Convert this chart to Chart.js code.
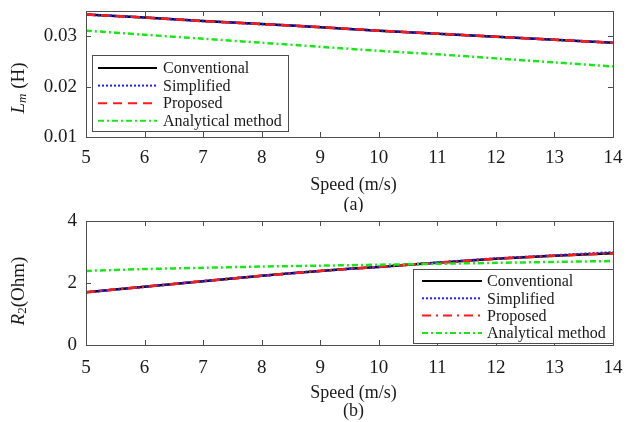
<!DOCTYPE html>
<html>
<head>
<meta charset="utf-8">
<script src="https://cdn.jsdelivr.net/npm/chart.js@4/dist/chart.umd.min.js"></script>
<style>
  body { margin: 0; background: #fff; }
  #wrap { position: relative; width: 628px; height: 422px; }
  canvas { position: absolute; left: 0; }
</style>
</head>
<body>
<div id="wrap">
  <canvas id="chartA" width="628" height="212" style="top:0"></canvas>
  <canvas id="chartB" width="628" height="210" style="top:212px"></canvas>
</div>
<script>
// data
const speed = [5, 6, 7, 8, 9, 10, 11, 12, 13, 14];

const lmConventional = [0.0343, 0.0337, 0.0330, 0.0324, 0.0318, 0.0311, 0.0305, 0.0299, 0.0293, 0.0287];
const lmSimplified   = [0.0343, 0.0337, 0.0330, 0.0324, 0.0318, 0.0311, 0.0305, 0.0299, 0.0293, 0.0287];
const lmProposed     = [0.0343, 0.0337, 0.0330, 0.0324, 0.0318, 0.0311, 0.0305, 0.0299, 0.0293, 0.0287];
const lmAnalytical   = [0.0311, 0.0303, 0.0295, 0.0287, 0.0279, 0.0271, 0.0264, 0.0256, 0.0248, 0.0240];

const r2Conventional = [1.70, 1.88, 2.06, 2.23, 2.39, 2.52, 2.65, 2.78, 2.88, 2.96];
const r2Simplified   = [1.70, 1.88, 2.06, 2.23, 2.39, 2.52, 2.66, 2.79, 2.89, 2.99];
const r2Proposed     = [1.70, 1.88, 2.06, 2.23, 2.39, 2.52, 2.65, 2.78, 2.88, 2.96];
const r2Analytical   = [2.39, 2.45, 2.49, 2.53, 2.56, 2.59, 2.62, 2.65, 2.68, 2.71];

const seriesNames = ['Conventional', 'Simplified', 'Proposed', 'Analytical method'];
const lmTicks = [0.01, 0.035, 0.01];   // min, max, step
const r2Ticks = [0, 4, 2];

const serif = '"Liberation Serif", "Times New Roman", serif';
const frameColor = '#4d4d4d';

function toPoints(values) {
    return speed.map((s, i) => ({ x: s, y: values[i] }));
}

// draws a rotated label made of several pieces (italic letter, subscript...)
function drawVerticalTitle(ctx, parts, cx, cy) {
    let total = 0;
    parts.forEach(p => { ctx.font = p.font; p.w = ctx.measureText(p.text).width; total += p.w; });
    ctx.save();
    ctx.translate(cx, cy);
    ctx.rotate(-Math.PI / 2);
    ctx.textBaseline = 'middle';
    ctx.textAlign = 'left';
    ctx.fillStyle = '#1a1a1a';
    let x = -total / 2;
    parts.forEach(p => {
        ctx.font = p.font;
        ctx.fillText(p.text, x, p.dy || 0);
        x += p.w;
    });
    ctx.restore();
}

function line(ctx, x1, y1, x2, y2) {
    ctx.beginPath();
    ctx.moveTo(x1, y1);
    ctx.lineTo(x2, y2);
    ctx.stroke();
}

// MATLAB style box, inward ticks, titles and legend
const matlabFrame = {
    id: 'matlabFrame',
    afterDraw(chart, args, opts) {
        const ctx = chart.ctx;
        const a = chart.chartArea;
        const xs = chart.scales.x;
        const ys = chart.scales.y;
        ctx.save();
        ctx.strokeStyle = frameColor;
        ctx.lineWidth = 1;
        ctx.setLineDash([]);
        ctx.strokeRect(Math.round(a.left) + 0.5, Math.round(a.top) + 0.5,
            Math.round(a.right - a.left), Math.round(a.bottom - a.top));
        xs.ticks.forEach(t => {
            const px = Math.round(xs.getPixelForValue(t.value)) + 0.5;
            line(ctx, px, a.bottom, px, a.bottom - 5);
            line(ctx, px, a.top, px, a.top + 5);
        });
        ys.ticks.forEach(t => {
            const py = Math.round(ys.getPixelForValue(t.value)) + 0.5;
            line(ctx, a.left, py, a.left + 5, py);
            line(ctx, a.right, py, a.right - 5, py);
        });

        // x title and panel label
        const cx = (a.left + a.right) / 2 + 4;
        ctx.fillStyle = '#1a1a1a';
        ctx.textAlign = 'center';
        ctx.textBaseline = 'middle';
        ctx.font = '18px ' + serif;
        ctx.fillText('Speed (m/s)', cx, a.bottom + 48);
        ctx.fillText(opts.panel, cx, a.bottom + opts.panelGap);

        drawVerticalTitle(ctx, opts.yTitle, 19, opts.yTitleY);

        // legend
        const lg = opts.legend;
        ctx.fillStyle = '#fff';
        ctx.fillRect(lg.left, lg.top, lg.width, lg.height);
        ctx.strokeStyle = frameColor;
        ctx.lineWidth = 1;
        ctx.strokeRect(lg.left + 0.5, lg.top + 0.5, lg.width, lg.height);
        chart.data.datasets.forEach((ds, i) => {
            const y = lg.top + lg.rowTop + i * lg.rowGap;
            ctx.strokeStyle = ds.borderColor;
            ctx.lineWidth = 2;
            ctx.setLineDash(ds.borderDash || []);
            line(ctx, lg.left + lg.lineStart, y, lg.left + lg.lineStart + lg.lineLen, y);
            ctx.setLineDash([]);
            ctx.fillStyle = '#1a1a1a';
            ctx.font = '16px ' + serif;
            ctx.textAlign = 'left';
            ctx.textBaseline = 'middle';
            ctx.fillText(ds.label, lg.left + lg.textX, y + 1);
        });
        ctx.restore();
    }
};

// order: lower number is drawn on top, so red stays visible over black
function makeDatasets(values, proposedDash) {
    return [
        { label: seriesNames[0], data: toPoints(values[0]), borderColor: '#000000', borderWidth: 2.5, borderDash: [], order: 4 },
        { label: seriesNames[1], data: toPoints(values[1]), borderColor: '#1f1fff', borderWidth: 2.5, borderDash: [2, 2], order: 3 },
        { label: seriesNames[2], data: toPoints(values[2]), borderColor: '#ff1a1a', borderWidth: 2.5, borderDash: proposedDash, order: 2 },
        { label: seriesNames[3], data: toPoints(values[3]), borderColor: '#19e619', borderWidth: 2.5, borderDash: [6, 3, 2, 3], order: 1 }
    ];
}

function crearGrafico(canvasId, datasets, yTicks, layout, frameOpts) {
    const el = document.getElementById(canvasId).getContext('2d');
    return new Chart(el, {
        type: 'line',
        data: { datasets: datasets },
        options: {
            responsive: false,
            animation: false,
            devicePixelRatio: 1,
            elements: { point: { radius: 0 }, line: { tension: 0.3 } },
            layout: { padding: { top: layout.top, right: 15, left: 0, bottom: 0 } },
            scales: {
                x: {
                    type: 'linear', min: 5, max: 14,
                    grid: { display: false, drawTicks: false },
                    border: { display: false },
                    ticks: { stepSize: 1, padding: layout.tickPad, color: '#1a1a1a', font: { family: serif, size: 19 } },
                    afterFit: s => { s.height = layout.xHeight; s.paddingLeft = 0; s.paddingRight = 0; }
                },
                y: {
                    min: yTicks[0], max: yTicks[1],
                    grid: { display: false, drawTicks: false },
                    border: { display: false },
                    ticks: { stepSize: yTicks[2], includeBounds: false, padding: 9, color: '#1a1a1a',
                             font: { family: serif, size: 19 } },
                    afterFit: s => { s.width = 86; s.paddingTop = 0; s.paddingBottom = 0; }
                }
            },
            plugins: {
                legend: { display: false },
                tooltip: { enabled: false },
                matlabFrame: frameOpts
            }
        },
        plugins: [matlabFrame]
    });
}

crearGrafico('chartA',
    makeDatasets([lmConventional, lmSimplified, lmProposed, lmAnalytical], [9, 6]),
    lmTicks,
    { top: 11, xHeight: 75, tickPad: 10 },
    {
        panel: '(a)', panelGap: 68, yTitleY: 88,
        yTitle: [
            { text: 'L', font: 'italic 19px ' + serif },
            { text: 'm', font: 'italic 13px ' + serif, dy: 4 },
            { text: ' (H)', font: '19px ' + serif }
        ],
        legend: { left: 92, top: 55, width: 196, height: 76, rowTop: 13, rowGap: 17.6, lineStart: 6, lineLen: 59, textX: 71 }
    });

crearGrafico('chartB',
    makeDatasets([r2Conventional, r2Simplified, r2Proposed, r2Analytical], [9, 5, 2, 5]),
    r2Ticks,
    { top: 9, xHeight: 77, tickPad: 12 },
    {
        panel: '(b)', panelGap: 66, yTitleY: 79,
        yTitle: [
            { text: 'R', font: 'italic 19px ' + serif },
            { text: '2', font: '13px ' + serif, dy: 4 },
            { text: '(Ohm)', font: '19px ' + serif }
        ],
        legend: { left: 413, top: 57, width: 200, height: 74, rowTop: 12, rowGap: 17.3, lineStart: 9, lineLen: 60, textX: 74 }
    });
</script>
</body>
</html>
